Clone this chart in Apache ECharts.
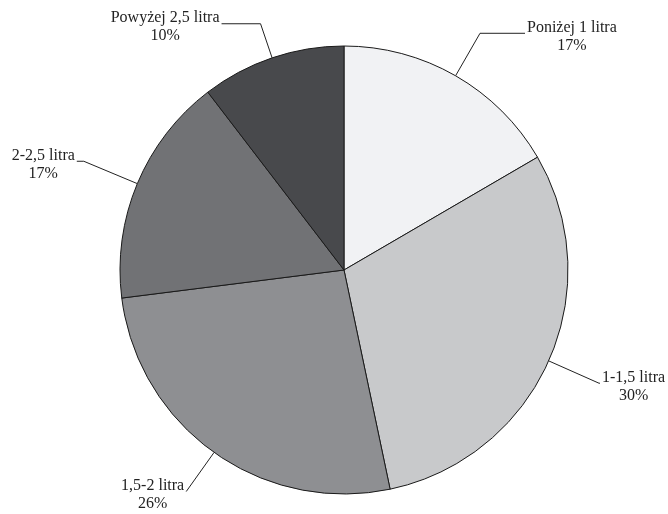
<!DOCTYPE html>
<html>
<head>
<meta charset="utf-8">
<script src="https://cdn.jsdelivr.net/npm/echarts@6/dist/echarts.min.js"></script>
<style>
html,body{margin:0;padding:0;background:#fff;}
#chart{width:668px;height:514px;}
</style>
</head>
<body>
<div id="chart"></div>
<script>
const categories = ['Poniżej 1 litra', '1-1,5 litra', '1,5-2 litra', '2-2,5 litra', 'Powyżej 2,5 litra'];
const values = [16.6, 30.1, 26.3, 16.6, 10.4];
const colors = ['#f1f2f4', '#c8c9cb', '#8e8f92', '#717275', '#48494c'];
const lineLen = [49, 55, 48, 58, 36];
const lineLen2 = [45, 1, 0, 7, 39];

const data = categories.map((c, i) => ({
  name: c,
  value: values[i],
  itemStyle: { color: colors[i] },
  labelLine: { length: lineLen[i], length2: lineLen2[i] }
}));

const chart = echarts.init(document.getElementById('chart'), null, { renderer: 'canvas' });
chart.setOption({
  backgroundColor: '#ffffff',
  animation: false,
  series: [{
    type: 'pie',
    center: [344, 270],
    radius: [0, 224],
    startAngle: 90,
    clockwise: true,
    avoidLabelOverlap: false,
    percentPrecision: 0,
    data: data,
    itemStyle: { borderColor: '#1a1a1a', borderWidth: 1 },
    label: {
      show: true,
      position: 'outside',
      distanceToLabelLine: 2,
      formatter: '{a|{b}}\n{a|{d}%}',
      padding: [7, 0, 0, 0],
      rich: {
        a: { fontFamily: 'Liberation Serif', fontSize: 16, lineHeight: 18, color: '#222', align: 'center' }
      }
    },
    labelLine: {
      show: true,
      lineStyle: { color: '#222', width: 1 }
    },
    emphasis: { disabled: true }
  }]
});
</script>
</body>
</html>
